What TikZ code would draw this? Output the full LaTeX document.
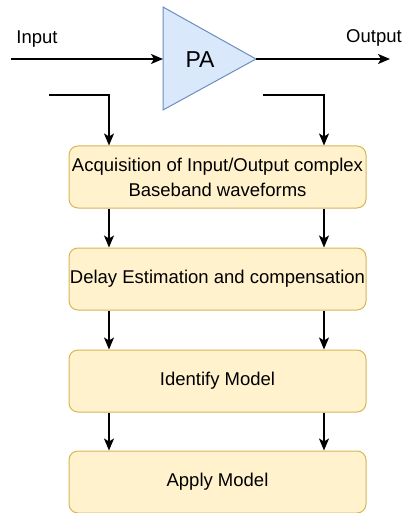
\documentclass[tikz,border=0pt]{standalone}
\usepackage{fontspec}
\setmainfont{Liberation Sans}
\usetikzlibrary{arrows.meta}
\definecolor{paFill}{HTML}{DAE8FC}
\definecolor{paLine}{HTML}{6C8EBF}
\definecolor{stepFill}{HTML}{FFF2CC}
\definecolor{stepLine}{HTML}{D6B656}
\begin{document}
\begin{tikzpicture}[x=1pt,y=-1pt,
  stepbox/.style={draw=stepLine, fill=stepFill, rounded corners=9pt, line width=1pt,
    minimum width=297pt, minimum height=62pt, align=center, inner sep=0pt,
    font=\fontsize{18.5}{25}\selectfont},
  flow/.style={line width=1.6pt, -{Stealth[length=12pt,width=10pt,inset=3pt]}},
  lbl/.style={font=\fontsize{18.5}{22}\selectfont, inner sep=0pt}]
\useasboundingbox (0,0) rectangle (403,513);

% power amplifier triangle
\coordinate (pat) at (163,7);
\coordinate (pab) at (163,110);
\coordinate (pai) at (163,59);
\coordinate (pao) at (256,59);
\draw[draw=paLine, fill=paFill, line width=1pt] (pat) -- (pao) -- (pab) -- cycle;
\node[lbl, font=\fontsize{23}{26}\selectfont] (pa) at (200,60) {PA};

% signal path
\coordinate (inL) at (11,59);
\coordinate (outR) at (390,59);
\draw[flow] (inL) -- (pai);
\draw[flow] (pao) -- (outR);
\node[lbl] (inlbl) at (37,39) {Input};
\node[lbl] (outlbl) at (374,38) {Output};

% processing chain
\node[stepbox] (s1) at (217.5,177) {Acquisition of Input/Output complex\\Baseband waveforms};
\node[stepbox] (s2) at (217.5,279) {Delay Estimation and compensation};
\node[stepbox] (s3) at (217.5,381) {Identify Model};
\node[stepbox] (s4) at (217.5,482) {Apply Model};

% sampling taps into the first step
\coordinate (lx) at (109,0);
\coordinate (rx) at (324,0);
\coordinate (tapL) at (49,95);
\coordinate (tapR) at (263,95);
\draw[flow] (tapL) -| (s1.north -| lx);
\draw[flow] (tapR) -| (s1.north -| rx);

% arrows between steps
\foreach \a/\b in {s1/s2, s2/s3, s3/s4}{
  \draw[flow] (\a.south -| lx) -- (\b.north -| lx);
  \draw[flow] (\a.south -| rx) -- (\b.north -| rx);
}
\end{tikzpicture}
\end{document}
